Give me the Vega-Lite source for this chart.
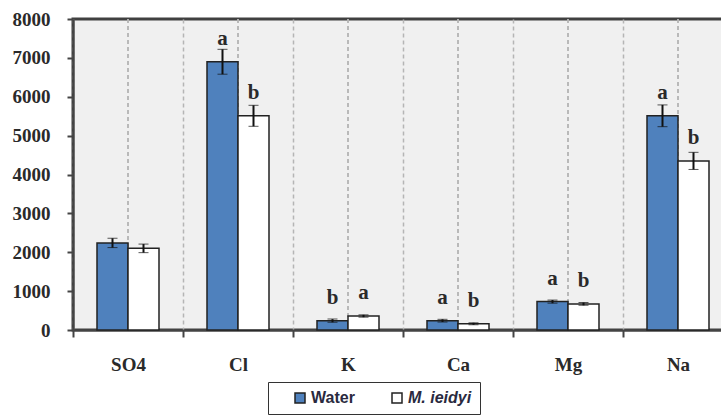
{
  "$schema": "https://vega.github.io/schema/vega-lite/v6.json",
  "width": 660,
  "height": 311,
  "autosize": {"type": "none"},
  "padding": {"left": 73, "top": 19, "right": 0, "bottom": 88},
  "background": "white",
  "config": {
    "view": {"fill": "#f0f0f0", "stroke": "#404040", "strokeWidth": 3},
    "axis": {"labelFont": "Liberation Serif", "labelFontWeight": "bold", "labelColor": "#2a2a2a", "domainColor": "#444", "tickColor": "#444", "domainWidth": 2, "tickWidth": 2}
  },
  "data": {
    "values": [
      {"ion": "SO4", "series": "Water", "value": 2240, "err": 120, "letter": ""},
      {"ion": "SO4", "series": "M. ieidyi", "value": 2100, "err": 110, "letter": ""},
      {"ion": "Cl", "series": "Water", "value": 6900, "err": 320, "letter": "a"},
      {"ion": "Cl", "series": "M. ieidyi", "value": 5510, "err": 270, "letter": "b"},
      {"ion": "K", "series": "Water", "value": 240, "err": 40, "letter": "b"},
      {"ion": "K", "series": "M. ieidyi", "value": 360, "err": 30, "letter": "a"},
      {"ion": "Ca", "series": "Water", "value": 240, "err": 35, "letter": "a"},
      {"ion": "Ca", "series": "M. ieidyi", "value": 160, "err": 25, "letter": "b"},
      {"ion": "Mg", "series": "Water", "value": 730, "err": 40, "letter": "a"},
      {"ion": "Mg", "series": "M. ieidyi", "value": 670, "err": 35, "letter": "b"},
      {"ion": "Na", "series": "Water", "value": 5510, "err": 280, "letter": "a"},
      {"ion": "Na", "series": "M. ieidyi", "value": 4350, "err": 220, "letter": "b"}
    ]
  },
  "encoding": {
    "x": {
      "field": "ion", "type": "nominal",
      "sort": ["SO4", "Cl", "K", "Ca", "Mg", "Na"],
      "scale": {"paddingInner": 0, "paddingOuter": 0},
      "axis": {"title": null, "labelAngle": 0, "labelFontSize": 19, "labelPadding": 18, "tickBand": "extent", "tickSize": 7, "grid": true, "gridDash": [4, 3], "gridColor": "#b5b5b5", "gridWidth": 1.5}
    },
    "y": {
      "field": "value", "type": "quantitative",
      "scale": {"domain": [0, 8000]},
      "axis": {"title": null, "values": [0, 1000, 2000, 3000, 4000, 5000, 6000, 7000, 8000], "format": "d", "labelOverlap": false, "labelFontSize": 19, "labelPadding": 17, "tickSize": 6, "grid": false}
    }
  },
  "layer": [
    {
      "mark": {"type": "rule", "strokeDash": [4, 3], "color": "#b5b5b5", "strokeWidth": 1.5},
      "encoding": {"y": null}
    },
    {
      "mark": {"type": "bar", "stroke": "#222", "strokeWidth": 1.5},
      "encoding": {
        "xOffset": {"field": "series", "type": "nominal", "sort": ["Water", "M. ieidyi"], "scale": {"paddingInner": 0, "paddingOuter": 0.774}},
        "color": {
          "field": "series", "type": "nominal",
          "scale": {"domain": ["Water", "M. ieidyi"], "range": ["#4f81bd", "#ffffff"]},
          "legend": {
            "title": null, "orient": "none", "direction": "horizontal", "legendX": 195, "legendY": 363,
            "symbolType": "square", "symbolSize": 100, "symbolStrokeColor": "#222", "symbolStrokeWidth": 1.5,
            "labelFont": "Liberation Sans", "labelFontWeight": "bold", "labelFontSize": 16, "labelColor": "#2a2a40", "labelOffset": 3,
            "strokeColor": "#333", "fillColor": "white", "padding": 8, "columnPadding": 18, "symbolOffset": 16,
            "encode": {"labels": {"update": {"fontStyle": {"signal": "datum.label == 'M. ieidyi' ? 'italic' : 'normal'"}}}}
          }
        }
      }
    },
    {
      "mark": {"type": "errorbar", "ticks": {"size": 10, "color": "#111", "strokeWidth": 2}, "rule": {"color": "#111", "strokeWidth": 2}},
      "encoding": {
        "xOffset": {"field": "series", "type": "nominal", "sort": ["Water", "M. ieidyi"]},
        "yError": {"field": "err"}
      }
    },
    {
      "mark": {"type": "text", "font": "Liberation Serif", "fontWeight": "bold", "fontSize": 21, "dy": -23, "baseline": "middle", "color": "#2a2a2a"},
      "encoding": {
        "xOffset": {"field": "series", "type": "nominal", "sort": ["Water", "M. ieidyi"]},
        "text": {"field": "letter"}
      }
    }
  ]
}
